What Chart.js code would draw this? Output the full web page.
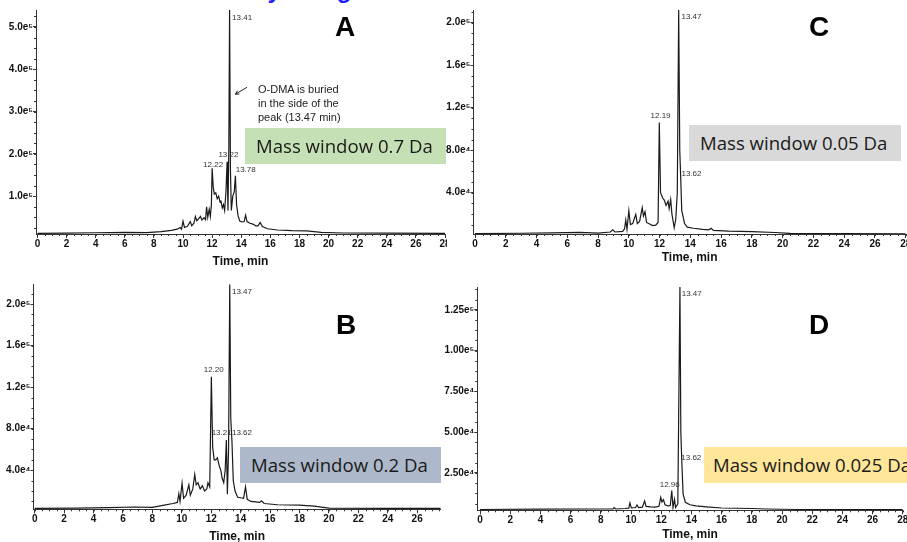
<!doctype html>
<html>

<head>
	<title>Extracted ion chromatograms - mass windows</title>
	<script src="https://cdn.jsdelivr.net/npm/chart.js@4.4.1/dist/chart.umd.min.js"></script>
	<style>
		body {
			margin: 0;
			width: 907px;
			height: 542px;
			overflow: hidden;
			background: #fff;
			position: relative;
			font-family: 'Liberation Sans', Arial, sans-serif;
		}
		canvas {
			position: absolute;
		}
		.box {
			position: absolute;
			font-family: 'Open Sans', sans-serif;
			font-size: 18.6px;
			color: #1a1a1a;
			box-sizing: border-box;
			white-space: nowrap;
			overflow: hidden;
		}
		.letter {
			position: absolute;
			font: bold 28px/28px 'Liberation Sans', Arial, sans-serif;
			color: #000;
		}
		.note {
			position: absolute;
			left: 258px;
			top: 82px;
			font-size: 11px;
			line-height: 14px;
			color: #222;
		}
		.heading {
			position: absolute;
			left: 162px;
			top: -22px;
			font: bold 24px/24px 'Liberation Sans', Arial, sans-serif;
			color: #1f1fff;
			white-space: nowrap;
		}
	</style>
</head>

<body>
	<div class="heading">Selectivity using narrow mass windows</div>
	<canvas id="chartA" width="447" height="271" style="left:0;top:0"></canvas>
	<canvas id="chartC" width="463" height="271" style="left:444px;top:0"></canvas>
	<canvas id="chartB" width="447" height="275" style="left:0;top:271px"></canvas>
	<canvas id="chartD" width="463" height="275" style="left:444px;top:271px"></canvas>

	<div class="letter" style="left:335px;top:13px">A</div>
	<div class="letter" style="left:809px;top:13px">C</div>
	<div class="letter" style="left:336px;top:311px">B</div>
	<div class="letter" style="left:809px;top:311px">D</div>

	<div class="note">O-DMA is buried<br>in the side of the<br>peak (13.47 min)</div>

	<div class="box" style="left:245px;top:128px;width:201px;height:36px;line-height:36px;padding-left:11px;background:#c5e0b4">Mass window 0.7 Da</div>
	<div class="box" style="left:689px;top:125px;width:212px;height:36px;line-height:36px;padding-left:11px;background:#d9d9d9">Mass window 0.05 Da</div>
	<div class="box" style="left:240px;top:447px;width:201px;height:36px;line-height:36px;padding-left:11px;background:#adb9ca">Mass window 0.2 Da</div>
	<div class="box" style="left:704px;top:447px;width:210px;height:36px;line-height:36px;padding-left:9px;background:#ffe699">Mass window 0.025 Da</div>

	<script>
		// panel A - mass window 0.7 Da
		var timeA = [0, 2, 4, 6, 7.5, 8.5, 9.2, 9.6, 9.8, 9.9, 10.0, 10.1, 10.3, 10.5, 10.6, 10.75, 10.85, 10.95, 11.05, 11.2,
			11.3, 11.45, 11.55, 11.62, 11.7, 11.8, 11.88, 11.95, 12.0, 12.08, 12.15, 12.25, 12.35, 12.45, 12.55, 12.6, 12.7, 12.78, 12.86, 12.95,
			13.03, 13.09, 13.15, 13.2, 13.26, 13.32, 13.42, 13.52, 13.6, 13.68, 13.78, 13.9, 14.05, 14.2, 14.3, 14.4, 14.6, 14.8, 15.0, 15.15,
			15.3, 15.45, 15.8, 16.5, 17.5, 18.5, 19.5, 21, 24, 28];
		var signalA = [12000, 12500, 13500, 14500, 14000, 16000, 19000, 22000, 26000, 22000, 41000, 26000, 29000, 40000, 30000, 36000, 52000, 42000, 46000, 52000,
			44000, 49000, 44000, 75000, 50000, 69000, 52000, 80000, 166000, 120000, 105000, 108000, 94000, 100000, 85000, 90000, 72000, 80000, 66000, 110000,
			181500, 66000, 220000, 540000, 160000, 66000, 100000, 110000, 148000, 80000, 54000, 41000, 39000, 40000, 55000, 40000, 36000, 34000, 30000, 30000,
			38000, 28000, 23000, 20000, 18500, 18000, 14500, 13000, 12500, 12000];

		// panel B - mass window 0.2 Da
		var timeB = [0, 3, 5, 6.8, 8.0, 8.8, 9.4, 9.7, 9.8, 9.88, 10.02, 10.12, 10.3, 10.48, 10.58, 10.75, 10.88, 10.98, 11.1, 11.25,
			11.4, 11.55, 11.7, 11.78, 11.9, 12.01, 12.1, 12.2, 12.3, 12.42, 12.55, 12.65, 12.75, 12.85, 12.95, 13.03, 13.1, 13.18, 13.26, 13.33,
			13.41, 13.5, 13.62, 13.8, 14.0, 14.2, 14.33, 14.45, 14.7, 15.0, 15.3, 15.42, 15.6, 16.5, 18, 19, 20, 24, 27.6];
		var signalB = [3300, 3600, 4000, 4600, 4200, 6500, 8000, 9000, 17400, 10000, 27500, 13000, 16000, 26000, 16000, 22000, 36000, 26000, 28000, 22000,
			25000, 20000, 22000, 28000, 24000, 130000, 62000, 50000, 50000, 52000, 44000, 40000, 32000, 28000, 40000, 69000, 17000, 60000, 219000, 90000,
			68000, 30000, 20000, 14000, 13500, 13000, 24000, 12000, 10000, 9500, 9000, 10500, 8000, 6800, 6500, 5500, 3600, 3300, 3200];

		// panel C - mass window 0.05 Da
		var timeC = [0, 3, 5, 6.8, 8, 8.8, 8.95, 9.1, 9.6, 9.72, 9.8, 9.88, 10.0, 10.1, 10.25, 10.45, 10.55, 10.7, 10.87, 10.95,
			11.05, 11.15, 11.35, 11.55, 11.75, 11.9, 11.98, 12.06, 12.2, 12.3, 12.42, 12.55, 12.62, 12.72, 12.8, 12.87, 12.95, 13.05, 13.15, 13.24,
			13.31, 13.37, 13.44, 13.52, 13.62, 13.8, 14.2, 14.8, 15.2, 15.35, 15.5, 16.5, 18, 19.5, 20.5, 24, 28];
		var signalC = [1500, 1800, 2200, 2600, 2000, 3000, 5000, 3000, 3500, 6000, 14300, 5500, 23000, 10000, 11000, 19500, 11000, 13000, 26000, 18000,
			22000, 12000, 10500, 9000, 9500, 12000, 106000, 40000, 35000, 33000, 28000, 32000, 25000, 33500, 20000, 14000, 7000, 15000, 40000, 212000,
			80000, 55000, 23000, 18000, 11000, 7500, 6500, 5500, 5000, 6500, 4500, 3800, 3400, 2500, 1600, 1400, 1300];

		// panel D - mass window 0.025 Da
		var timeD = [0, 4, 8.0, 8.8, 8.88, 8.98, 9.6, 9.85, 9.93, 10.02, 10.3, 10.4, 10.5, 10.75, 10.9, 11.0, 11.3, 11.6, 11.85, 11.97,
			12.05, 12.15, 12.25, 12.45, 12.6, 12.7, 12.78, 12.88, 12.95, 13.1, 13.24, 13.3, 13.36, 13.45, 13.6, 13.9, 14.3, 15, 16, 18,
			19, 21, 28];
		var signalD = [2600, 2800, 2900, 2900, 3800, 2900, 3200, 3400, 6600, 3600, 3800, 5400, 3700, 4000, 7800, 4500, 4200, 4000, 4600, 10000,
			7200, 8600, 5500, 4800, 5000, 14200, 3800, 8800, 3800, 6000, 139000, 50000, 33000, 12000, 7000, 5500, 4800, 4200, 3500, 3200,
			2900, 2600, 2600];

		// axis ticks
		var timeTicks = [0, 2, 4, 6, 8, 10, 12, 14, 16, 18, 20, 22, 24, 26, 28];
		var yTicksA = [100000, 200000, 300000, 400000, 500000];
		var yLabelsA = ['1.0e⁵', '2.0e⁵', '3.0e⁵', '4.0e⁵', '5.0e⁵'];
		var yTicksBC = [40000, 80000, 120000, 160000, 200000];
		var yLabelsBC = ['4.0e⁴', '8.0e⁴', '1.2e⁵', '1.6e⁵', '2.0e⁵'];
		var yTicksD = [25000, 50000, 75000, 100000, 125000];
		var yLabelsD = ['2.50e⁴', '5.00e⁴', '7.50e⁴', '1.00e⁵', '1.25e⁵'];

		// peak apex labels (time, intensity where the text sits)
		var peaksA = [{ text: '13.41', t: 13.37, v: 520500 }, { text: '13.22', t: 12.43, v: 197400 },
			{ text: '12.22', t: 11.38, v: 173000 }, { text: '13.78', t: 13.62, v: 161900 }];
		var peaksB = [{ text: '13.47', t: 13.41, v: 212200 }, { text: '12.20', t: 11.49, v: 137000 },
			{ text: '13.21', t: 12.03, v: 75700 }, { text: '13.62', t: 13.41, v: 75700 }];
		var peaksC = [{ text: '13.47', t: 13.42, v: 205600 }, { text: '12.19', t: 11.41, v: 112200 },
			{ text: '13.62', t: 13.42, v: 57600 }];
		var peaksD = [{ text: '13.47', t: 13.36, v: 134700 }, { text: '13.62', t: 13.33, v: 34000 },
			{ text: '12.96', t: 11.9, v: 17600 }];

		var axisColor = '#333';
		var tickFont = { family: "'Liberation Sans', Arial, sans-serif", size: 10, weight: 'bold' };

		var annotate = {
			id: 'annotate',
			afterDatasetsDraw: function(chart, args, opts) {
				var ctx = chart.ctx;
				var x = chart.scales.x;
				var y = chart.scales.y;
				ctx.save();
				// minor ticks
				ctx.strokeStyle = axisColor;
				ctx.lineWidth = 1;
				ctx.beginPath();
				for (var t = 0; t <= x.max; t += 0.5) {
					var px = Math.round(x.getPixelForValue(t)) + 0.5;
					ctx.moveTo(px, x.top);
					ctx.lineTo(px, x.top + 2);
				}
				for (var v = opts.yMinor; v <= y.max; v += opts.yMinor) {
					var py = Math.round(y.getPixelForValue(v)) + 0.5;
					ctx.moveTo(y.right, py);
					ctx.lineTo(y.right - 2, py);
				}
				ctx.stroke();

				ctx.font = "8px 'Liberation Sans', Arial, sans-serif";
				ctx.fillStyle = '#333';
				ctx.textAlign = 'left';
				ctx.textBaseline = 'middle';
				opts.peaks.forEach(function(p) {
					ctx.fillText(p.text, x.getPixelForValue(p.t), y.getPixelForValue(p.v));
				});

				if (opts.arrow) {
					var x0 = x.getPixelForValue(opts.arrow[0]);
					var y0 = y.getPixelForValue(opts.arrow[1]);
					var x1 = x.getPixelForValue(opts.arrow[2]);
					var y1 = y.getPixelForValue(opts.arrow[3]);
					var ang = Math.atan2(y1 - y0, x1 - x0);
					ctx.strokeStyle = '#222';
					ctx.beginPath();
					ctx.moveTo(x0, y0);
					ctx.lineTo(x1, y1);
					ctx.moveTo(x1 - 4 * Math.cos(ang - 0.5), y1 - 4 * Math.sin(ang - 0.5));
					ctx.lineTo(x1, y1);
					ctx.lineTo(x1 - 4 * Math.cos(ang + 0.5), y1 - 4 * Math.sin(ang + 0.5));
					ctx.stroke();
				}
				ctx.restore();
			}
		};

		function makePanel(id, times, signal, o) {
			var points = times.map(function(t, i) {
				return { x: t, y: signal[i] };
			});
			return new Chart(document.getElementById(id), {
				type: 'line',
				data: {
					datasets: [{
						data: points,
						borderColor: '#1a1a1a',
						borderWidth: 1.2,
						pointRadius: 0,
						tension: 0
					}]
				},
				plugins: [annotate],
				options: {
					responsive: false,
					animation: false,
					events: [],
					layout: { padding: o.pad },
					plugins: {
						legend: { display: false },
						tooltip: { enabled: false },
						annotate: { peaks: o.peaks, yMinor: o.yMinor, arrow: o.arrow }
					},
					scales: {
						x: {
							type: 'linear',
							min: o.xMin,
							max: o.xMax,
							afterBuildTicks: function(scale) {
								scale.ticks = timeTicks.filter(function(t) {
									return t <= o.xMax;
								}).map(function(t) {
									return { value: t };
								});
							},
							afterFit: function(scale) {
								scale.height = o.xH;
								scale.paddingLeft = 0;
								scale.paddingRight = 0;
							},
							ticks: {
								autoSkip: false,
								maxRotation: 0,
								padding: 0,
								color: '#111',
								font: tickFont
							},
							grid: { drawOnChartArea: false, tickLength: 4, color: axisColor },
							border: { color: axisColor },
							title: {
								display: true,
								text: 'Time, min',
								color: '#111',
								padding: { top: 0, bottom: o.titlePad },
								font: { family: "'Liberation Sans', Arial, sans-serif", size: 12, weight: 'bold' }
							}
						},
						y: {
							min: o.yMin,
							max: o.yMax,
							afterBuildTicks: function(scale) {
								scale.ticks = o.yTicks.map(function(v) {
									return { value: v };
								});
							},
							afterFit: function(scale) {
								scale.width = o.yW;
								scale.paddingTop = 0;
								scale.paddingBottom = 0;
							},
							ticks: {
								padding: 0,
								color: '#111',
								font: tickFont,
								callback: function(v, i) {
									return o.yLabels[i];
								}
							},
							grid: { drawOnChartArea: false, tickLength: 3, color: axisColor },
							border: { color: axisColor }
						}
					}
				}
			});
		}

		window.onload = function() {
			makePanel('chartA', timeA, signalA, {
				pad: { left: 0, top: 10, right: 2, bottom: 0 }, yW: 36, xH: 37, titlePad: 2,
				xMin: -0.1, xMax: 28, yMin: 10600, yMax: 540000,
				yTicks: yTicksA, yLabels: yLabelsA, yMinor: 25000, peaks: peaksA,
				arrow: [14.4, 357400, 13.6, 341000]
			});
			makePanel('chartC', timeC, signalC, {
				pad: { left: 0, top: 10, right: 1.3, bottom: 0 }, yW: 29.5, xH: 37, titlePad: 6,
				xMin: -0.1, xMax: 28, yMin: 1100, yMax: 212000,
				yTicks: yTicksBC, yLabels: yLabelsBC, yMinor: 10000, peaks: peaksC
			});
			makePanel('chartB', timeB, signalB, {
				pad: { left: 0, top: 13.3, right: 6.3, bottom: 0 }, yW: 33.5, xH: 36.7, titlePad: 2,
				xMin: -0.08, xMax: 27.6, yMin: 2400, yMax: 219000,
				yTicks: yTicksBC, yLabels: yLabelsBC, yMinor: 10000, peaks: peaksB
			});
			makePanel('chartD', timeD, signalD, {
				pad: { left: 0, top: 16, right: 4.2, bottom: 0 }, yW: 33.3, xH: 35.7, titlePad: 4.5,
				xMin: -0.18, xMax: 28, yMin: 2100, yMax: 139000,
				yTicks: yTicksD, yLabels: yLabelsD, yMinor: 6250, peaks: peaksD
			});
		};
	</script>
</body>

</html>
